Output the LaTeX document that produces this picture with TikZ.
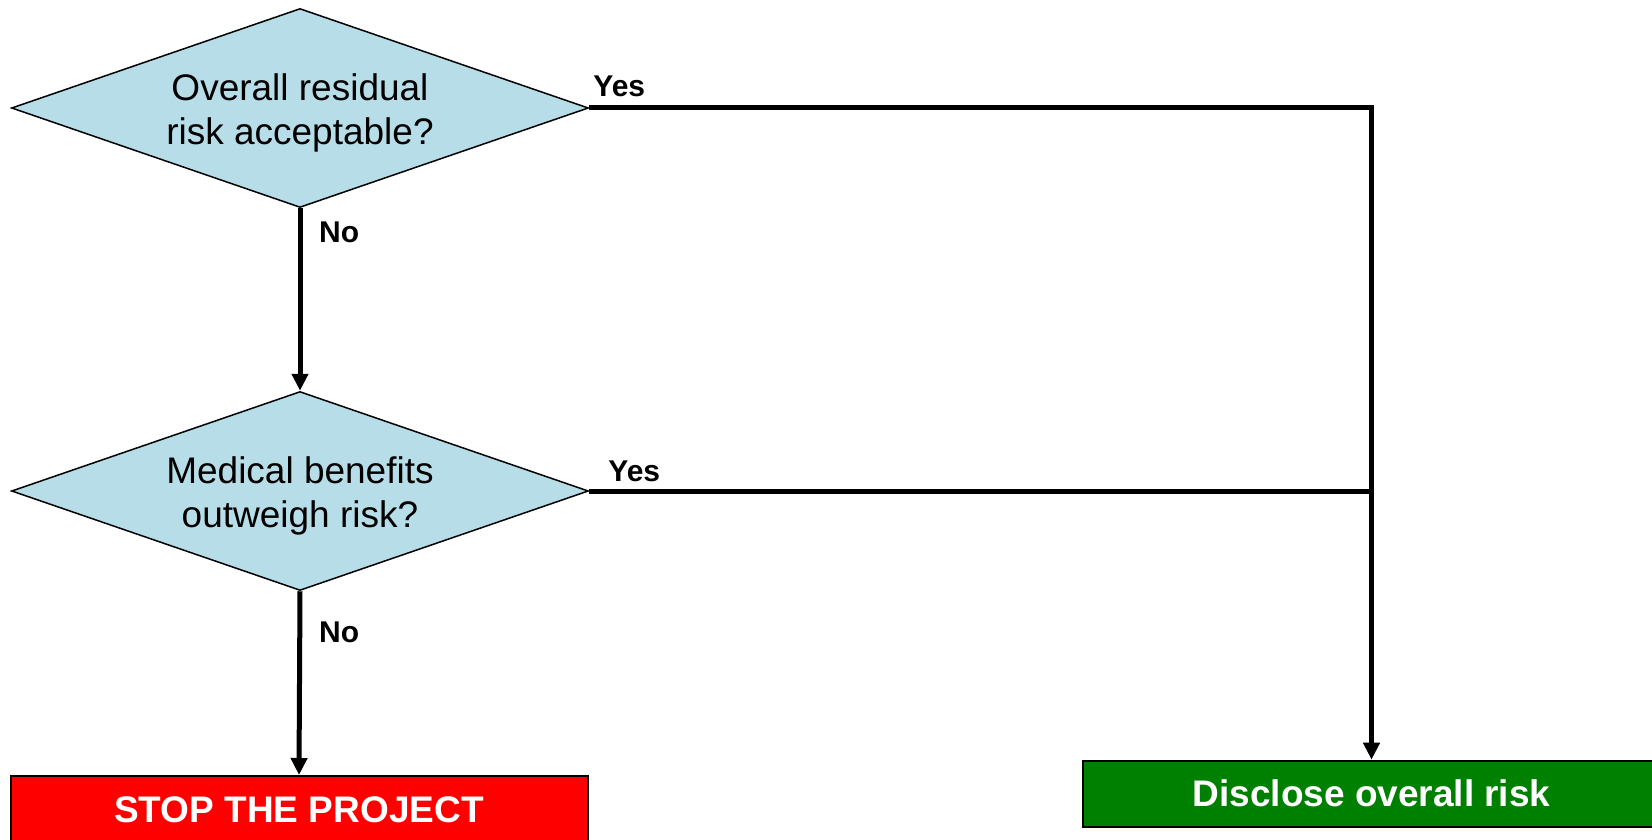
\documentclass[tikz,border=0pt]{standalone}
\usepackage{fontspec}
\setmainfont{Liberation Sans}
\usetikzlibrary{shapes.geometric,arrows.meta,calc}
\definecolor{dfill}{HTML}{B7DEE8}
\definecolor{stopred}{HTML}{FF0000}
\definecolor{goodgreen}{HTML}{008000}
\tikzset{
  decision/.style={shape=diamond, draw=black, line width=1.5pt, fill=dfill,
    shape aspect=2.9, inner sep=0pt, minimum width=577pt, minimum height=199pt},
  dtext/.style={inner sep=0pt, align=center, font=\fontsize{37}{44}\selectfont},
  endbox/.style={shape=rectangle, draw=black, line width=2pt, inner sep=0pt,
    minimum width=577pt, text=white, font=\fontsize{37}{45}\selectfont\bfseries},
  conn/.style={line width=5pt, line join=miter, draw=black},
  arr/.style={conn, -{Triangle[length=17pt,width=16pt]}},
  lab/.style={inner sep=0pt, font=\fontsize{30}{36}\selectfont\bfseries},
}
\begin{document}
\begin{tikzpicture}[x=1pt,y=-1pt]
\useasboundingbox (0,0) rectangle (1652,840);
\node[decision] (d1) at (300,108) {};
\node[dtext] (t1) at ([yshift=-5pt]d1.center) {Overall residual\\risk acceptable?};
\node[decision] (d2) at (300,491) {};
\node[dtext] (t2) at ([yshift=-5pt]d2.center) {Medical benefits\\outweigh risk?};
\node[endbox, fill=stopred, minimum height=68pt] (stop) at (299,810) {STOP THE PROJECT};
\node[endbox, fill=goodgreen, minimum height=66pt] (dis) at (1371.5,793.7) {Disclose overall risk};
\coordinate (j1) at (d1.east -| dis.north);
\coordinate (j2) at (d2.east -| dis.north);
\draw[conn] (d1.east) -- (j1) -- (j2);
\draw[arr] (j2) -- (dis.north);
\draw[conn] (d2.east) -- (j2);
\draw[arr] (d1.south) -- (d2.north);
\draw[arr] (d2.south) -- (stop.north);
\node[lab, anchor=base west] (yes1) at ([xshift=4pt,yshift=11.5pt]d1.east) {Yes};
\node[lab, anchor=base west] (yes2) at ([xshift=19pt,yshift=9.5pt]d2.east) {Yes};
\node[lab, anchor=base west] (no1) at ([xshift=19pt,yshift=-34.5pt]d1.south) {No};
\node[lab, anchor=base west] (no2) at ([xshift=19pt,yshift=-51pt]d2.south) {No};
\end{tikzpicture}
\end{document}
